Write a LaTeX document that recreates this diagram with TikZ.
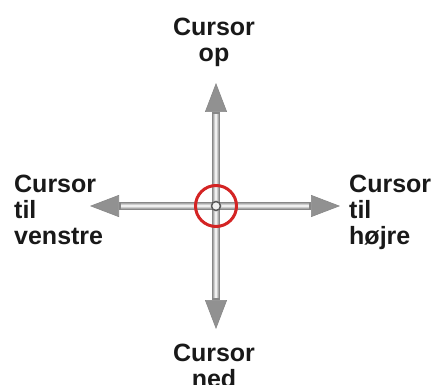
\documentclass[tikz,border=0pt]{standalone}
\usepackage{fontspec}
\setmainfont{Liberation Sans}
\usetikzlibrary{arrows.meta}
\definecolor{tubegray}{RGB}{135,135,135}
\definecolor{tubemid}{RGB}{170,170,170}
\definecolor{tubesoft}{RGB}{205,205,205}
\definecolor{tubelight}{RGB}{240,240,240}
\definecolor{headgray}{RGB}{145,145,145}
\definecolor{ringred}{RGB}{212,36,36}

\begin{document}
\begin{tikzpicture}[x=1pt,y=-1pt,
    lbl/.style={font=\bfseries\fontsize{25}{26}\selectfont, text=black!90, inner sep=0pt},
    shaft/.style={line width=8.5pt, draw=tubegray, -{Triangle[width=22pt,length=29pt,line width=0.6pt,fill=headgray]}},
    tube/.style={line width=6pt, draw=tubemid, shorten >=31pt},
    soft/.style={line width=4pt, draw=tubesoft, shorten >=31pt},
    glint/.style={line width=2pt, draw=tubelight, shorten >=31pt},
    ring/.style={circle, draw=ringred, line width=3pt, minimum size=41pt, inner sep=0pt}]
  \useasboundingbox (0,0) rectangle (434,385);

  % centre and arrow ends
  \coordinate (c) at (216,206);
  \coordinate (up) at (216,83);
  \coordinate (down) at (216,329);
  \coordinate (left) at (90,206);
  \coordinate (right) at (340,206);

  % arrows
  \foreach \e in {up,down,left,right}
    \draw[shaft] (c) -- (\e);
  \foreach \e in {up,down,left,right}
    \draw[tube] (c) -- (\e);
  \foreach \e in {up,down,left,right}
    \draw[soft] (c) -- (\e);
  \foreach \e in {up,down,left,right}
    \draw[glint] (c) -- (\e);

  % ring and centre dot
  \node[ring] (ring) at (c) {};
  \node[circle, fill=tubelight, draw=gray!70!black, line width=1.5pt, minimum size=9pt, inner sep=0pt] (dot) at (c) {};

  % labels
  \node[lbl, align=center, anchor=north] (op) at (214,18) {Cursor\\op};
  \node[lbl, align=center, anchor=north] (ned) at (214,344) {Cursor\\ned};
  \node[lbl, align=left, anchor=north west] (venstre) at (14,175) {Cursor\\til\\venstre};
  \node[lbl, align=left, anchor=north west] (hojre) at (349,175) {Cursor\\til\\højre};
\end{tikzpicture}
\end{document}
